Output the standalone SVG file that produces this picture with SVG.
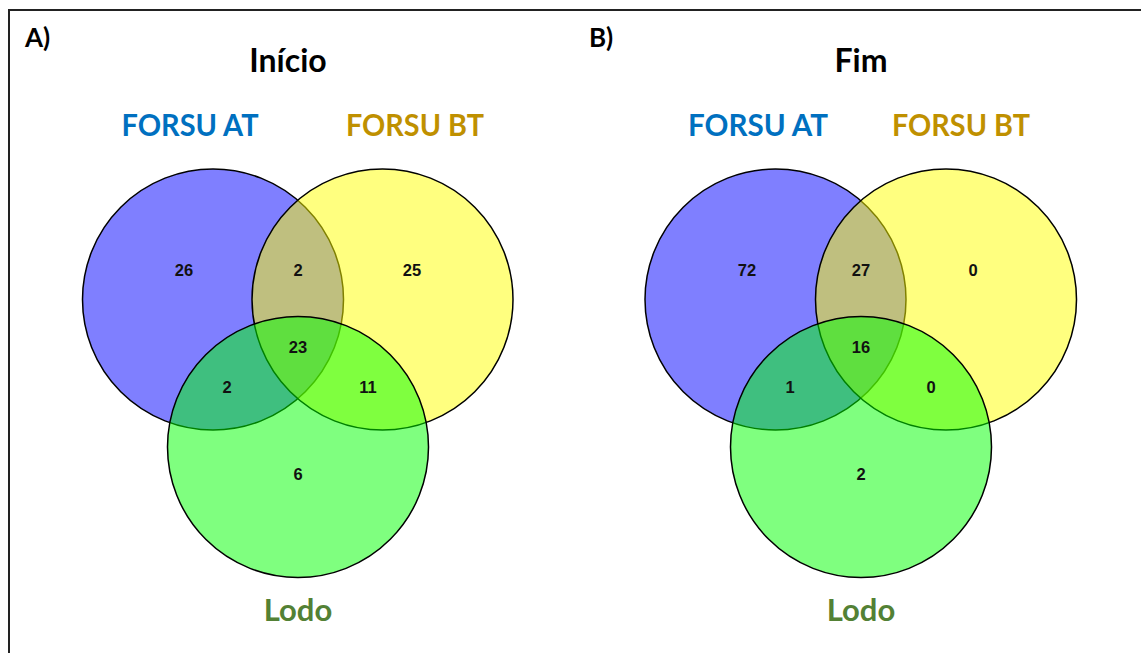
<svg xmlns="http://www.w3.org/2000/svg" width="1141" height="653" viewBox="0 0 1141 653">
  <style>
    .frame { fill: #ffffff; stroke: #222222; stroke-width: 2; }
    .set { stroke: #000000; stroke-width: 1.5; fill-opacity: 0.5; }
    .at { fill: #0000ff; }
    .bt { fill: #ffff00; }
    .lodo { fill: #00ff00; }
    .num { font-family: "Liberation Sans", Arial, sans-serif; font-weight: bold; font-size: 16.5px; fill: #111111; text-anchor: middle; }
    .panel { font-family: Lato, "Liberation Sans", sans-serif; font-weight: bold; font-size: 26px; fill: #000000; }
    .title { font-family: Lato, "Liberation Sans", sans-serif; font-weight: bold; font-size: 32px; fill: #000000; text-anchor: middle; }
    .lbl { font-family: Lato, "Liberation Sans", sans-serif; font-weight: bold; font-size: 31px; text-anchor: middle; }
    .c-at { fill: #0070c0; }
    .c-bt { fill: #bf9000; }
    .c-lodo { fill: #538135; }
  </style>

  <rect class="frame" x="9" y="10" width="1200" height="700"/>

  <!-- Panel A: start -->
  <g id="panelA">
    <text class="panel" x="25" y="47">A)</text>
    <text class="title" x="288" y="72">Início</text>
    <g id="A-forsu-at">
      <circle class="set at" cx="213" cy="299.5" r="130.5"/>
      <text class="lbl c-at" x="190" y="136" textLength="137" lengthAdjust="spacingAndGlyphs">FORSU AT</text>
    </g>
    <g id="A-forsu-bt">
      <circle class="set bt" cx="382.5" cy="299.5" r="130.5"/>
      <text class="lbl c-bt" x="415" y="136" textLength="138" lengthAdjust="spacingAndGlyphs">FORSU BT</text>
    </g>
    <g id="A-lodo">
      <circle class="set lodo" cx="298" cy="447" r="130.5"/>
      <text class="lbl c-lodo" x="298" y="621">Lodo</text>
    </g>
    <g id="A-counts">
      <text class="num" x="184" y="276">26</text>
      <text class="num" x="298" y="276">2</text>
      <text class="num" x="412" y="276">25</text>
      <text class="num" x="298" y="353">23</text>
      <text class="num" x="227" y="393">2</text>
      <text class="num" x="368" y="393">11</text>
      <text class="num" x="298" y="480">6</text>
    </g>
  </g>

  <!-- Panel B: end -->
  <g id="panelB">
    <text class="panel" x="589" y="47">B)</text>
    <text class="title" x="861" y="72">Fim</text>
    <g id="B-forsu-at">
      <circle class="set at" cx="775.5" cy="299.5" r="130.5"/>
      <text class="lbl c-at" x="758" y="136" textLength="140" lengthAdjust="spacingAndGlyphs">FORSU AT</text>
    </g>
    <g id="B-forsu-bt">
      <circle class="set bt" cx="946" cy="299.5" r="130.5"/>
      <text class="lbl c-bt" x="961" y="136" textLength="138" lengthAdjust="spacingAndGlyphs">FORSU BT</text>
    </g>
    <g id="B-lodo">
      <circle class="set lodo" cx="861" cy="447" r="130.5"/>
      <text class="lbl c-lodo" x="861" y="621">Lodo</text>
    </g>
    <g id="B-counts">
      <text class="num" x="747" y="276">72</text>
      <text class="num" x="861" y="276">27</text>
      <text class="num" x="973" y="276">0</text>
      <text class="num" x="861" y="353">16</text>
      <text class="num" x="790" y="393">1</text>
      <text class="num" x="931" y="393">0</text>
      <text class="num" x="861" y="480">2</text>
    </g>
  </g>
</svg>
